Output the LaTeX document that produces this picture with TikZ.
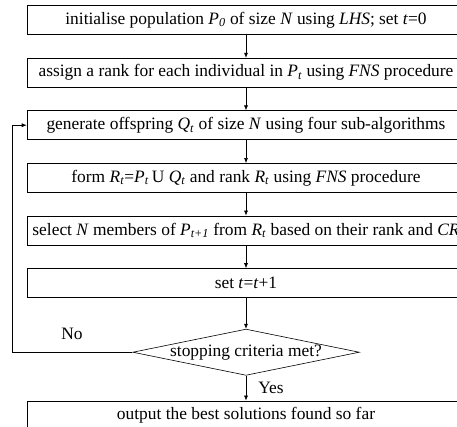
\documentclass[tikz,border=0pt]{standalone}
\usepackage{fontspec}
\setmainfont{Liberation Serif}
\usetikzlibrary{positioning,arrows.meta,shapes.geometric}

\newcommand{\vs}[2]{\textit{#1}\textsubscript{\textit{#2}}}

\begin{document}
\begin{tikzpicture}[x=1pt, y=-1pt,
  node distance=23pt,
  blk/.style={draw, line width=0.6pt, minimum width=438pt, minimum height=29pt, inner sep=1pt, font=\fontsize{17.4}{19}\selectfont},
  dec/.style={draw, line width=0.6pt, shape=diamond, aspect=4.9, inner sep=0pt, minimum width=226pt, minimum height=46pt, font=\fontsize{17.4}{19}\selectfont},
  arr/.style={-{Latex[length=5pt,width=4pt]}, line width=0.6pt},
  lbl/.style={font=\fontsize{17.4}{19}\selectfont, inner sep=1pt}]
  \clip (0,0) rectangle (457,426);
  \node[blk] (init) at (246,20) {initialise population \vs{P}{0} of size \textit{N} using \textit{LHS}; set \textit{t}=0};
  \node[blk, below=of init] (rank) {assign a rank for each individual in \vs{P}{t} using \textit{FNS} procedure};
  \node[blk, below=of rank] (gen) {generate offspring \vs{Q}{t} of size \textit{N} using four sub-algorithms};
  \node[blk, below=of gen] (form) {form \vs{R}{t}=\vs{P}{t}\,U \vs{Q}{t} and rank \vs{R}{t} using \textit{FNS} procedure};
  \node[blk, below=of form] (sel) {select \textit{N} members of \vs{P}{t+1} from \vs{R}{t} based on their rank and \textit{CR}};
  \node[blk, below=of sel] (inc) {set \textit{t}=\textit{t}+1};
  \node[dec, below=31pt of inc] (stop) {stopping criteria met?};
  \node[blk, below=25pt of stop] (out) {output the best solutions found so far};
  \coordinate (back) at (12,0);
  \draw[arr] (init) -- (rank); \draw[arr] (rank) -- (gen); \draw[arr] (gen) -- (form);
  \draw[arr] (form) -- (sel); \draw[arr] (sel) -- (inc); \draw[arr] (inc) -- (stop);
  \draw[arr] (stop) -- node[lbl, right=11pt] (yes) {Yes} (out);
  \draw[arr] (stop.west) -- (stop.west -| back) |- (gen.west);
  \node[lbl] (no) at (72,334) {No};
\end{tikzpicture}
\end{document}
